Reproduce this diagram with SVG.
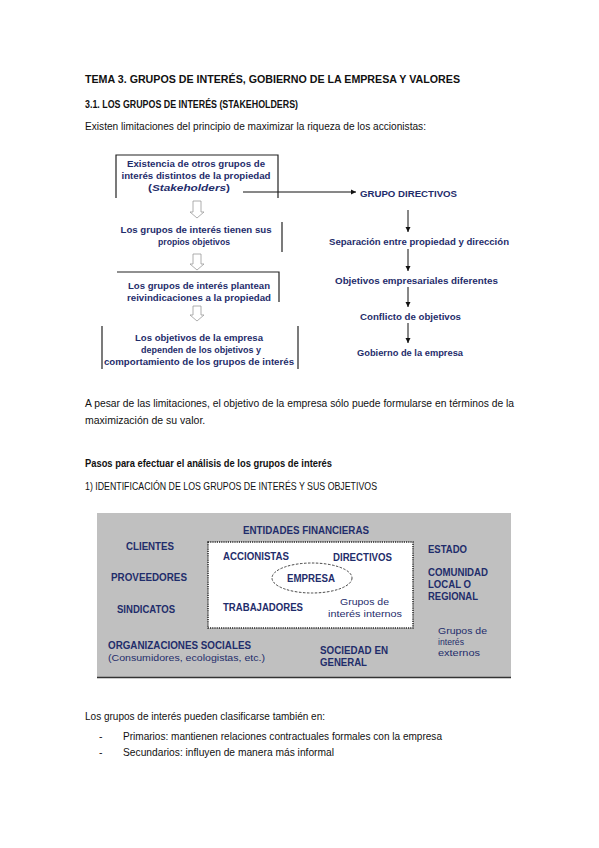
<svg xmlns="http://www.w3.org/2000/svg" width="599" height="848" viewBox="0 0 599 848">
<defs>
<marker id="ah" markerWidth="6" markerHeight="6" refX="5" refY="3" orient="auto" markerUnits="userSpaceOnUse">
<path d="M0,0.5 L5,3 L0,5.5 Z" fill="#111"/>
</marker>
<style>
.doc{font-family:"Liberation Sans",Arial,sans-serif;fill:#111;font-size:10.5px}
.b{font-weight:bold}
.dg{font-family:"Liberation Sans",Arial,sans-serif;font-weight:bold;fill:#1f2d6b;font-size:9px}
.gb{font-family:"Liberation Sans",Arial,sans-serif;font-weight:bold;fill:#1f2d6b;font-size:10px}
.gn{font-family:"Liberation Sans",Arial,sans-serif;fill:#1f2d6b;font-size:9.5px}
.frame{stroke:#222;stroke-width:1.2;fill:none}
.hollow{fill:#fff;stroke:#9a9a9a;stroke-width:0.8}
.conn{stroke:#111;stroke-width:1;fill:none}
</style>
</defs>
<rect width="599" height="848" fill="#fff"/>

<g id="header">
<text class="doc b" x="85" y="83" font-size="14.5" textLength="375" lengthAdjust="spacingAndGlyphs">TEMA 3. GRUPOS DE INTERÉS, GOBIERNO DE LA EMPRESA Y VALORES</text>
<text class="doc b" x="85" y="108" font-size="11" textLength="213" lengthAdjust="spacingAndGlyphs">3.1. LOS GRUPOS DE INTERÉS (STAKEHOLDERS)</text>
<text class="doc" x="85" y="130" textLength="341" lengthAdjust="spacingAndGlyphs">Existen limitaciones del principio de maximizar la riqueza de los accionistas:</text>
</g>

<g id="connectors">
<line class="conn" x1="243" y1="192" x2="356" y2="192" marker-end="url(#ah)"/>
<line class="conn" x1="408" y1="210" x2="408" y2="232" marker-end="url(#ah)"/>
<line class="conn" x1="408" y1="249" x2="408" y2="271" marker-end="url(#ah)"/>
<line class="conn" x1="408" y1="287" x2="408" y2="307" marker-end="url(#ah)"/>
<line class="conn" x1="408" y1="323" x2="408" y2="343" marker-end="url(#ah)"/>
<path class="hollow" d="M193,201 H201 V212 H204 L197,218 L190,212 H193 Z"/>
<path class="hollow" d="M193,254 H201 V264 H204 L197,270 L190,264 H193 Z"/>
<path class="hollow" d="M193,306 H201 V315 H204 L197,321 L190,315 H193 Z"/>
</g>

<g id="box1">
<path class="frame" d="M116,198 V155 H278 V198"/>
<text class="dg" x="196" y="167" text-anchor="middle" textLength="138" lengthAdjust="spacingAndGlyphs">Existencia de otros grupos de</text>
<text class="dg" x="196" y="179" text-anchor="middle" textLength="149" lengthAdjust="spacingAndGlyphs">interés distintos de la propiedad</text>
<text class="dg" x="189" y="191" text-anchor="middle" textLength="82" lengthAdjust="spacingAndGlyphs">(<tspan font-style="italic">Stakeholders</tspan>)</text>
</g>

<g id="box2">
<line class="frame" x1="282" y1="222" x2="282" y2="252"/>
<text class="dg" x="196" y="233" text-anchor="middle" textLength="151" lengthAdjust="spacingAndGlyphs">Los grupos de interés tienen sus</text>
<text class="dg" x="194" y="245" text-anchor="middle" textLength="72" lengthAdjust="spacingAndGlyphs">propios objetivos</text>
</g>

<g id="box3">
<path class="frame" d="M117,272 H279 V302"/>
<text class="dg" x="199" y="289" text-anchor="middle" textLength="142" lengthAdjust="spacingAndGlyphs">Los grupos de interés plantean</text>
<text class="dg" x="199" y="301" text-anchor="middle" textLength="144" lengthAdjust="spacingAndGlyphs">reivindicaciones a la propiedad</text>
</g>

<g id="box4">
<line class="frame" x1="102" y1="326" x2="102" y2="369"/>
<line class="frame" x1="298" y1="326" x2="298" y2="369"/>
<text class="dg" x="199" y="341" text-anchor="middle" textLength="128" lengthAdjust="spacingAndGlyphs">Los objetivos de la empresa</text>
<text class="dg" x="201" y="353" text-anchor="middle" textLength="120" lengthAdjust="spacingAndGlyphs">dependen de los objetivos y</text>
<text class="dg" x="199" y="365" text-anchor="middle" textLength="190" lengthAdjust="spacingAndGlyphs">comportamiento de los grupos de interés</text>
</g>

<g id="directivos">
<text class="dg" x="360" y="197" textLength="97" lengthAdjust="spacingAndGlyphs">GRUPO DIRECTIVOS</text>
</g>
<g id="separacion">
<text class="dg" x="329" y="245" textLength="180" lengthAdjust="spacingAndGlyphs">Separación entre propiedad y dirección</text>
</g>
<g id="objetivos">
<text class="dg" x="335" y="284" textLength="163" lengthAdjust="spacingAndGlyphs">Objetivos empresariales diferentes</text>
</g>
<g id="conflicto">
<text class="dg" x="360" y="320" textLength="101" lengthAdjust="spacingAndGlyphs">Conflicto de objetivos</text>
</g>
<g id="gobierno">
<text class="dg" x="357" y="356" textLength="106" lengthAdjust="spacingAndGlyphs">Gobierno de la empresa</text>
</g>

<g id="paragraphs">
<text class="doc" x="85" y="407" textLength="429" lengthAdjust="spacingAndGlyphs">A pesar de las limitaciones, el objetivo de la empresa sólo puede formularse en términos de la</text>
<text class="doc" x="85" y="424" font-size="10">maximización de su valor.</text>
<text class="doc b" x="85" y="467" textLength="247" lengthAdjust="spacingAndGlyphs">Pasos para efectuar el análisis de los grupos de interés</text>
<text class="doc" x="85" y="490" textLength="292" lengthAdjust="spacingAndGlyphs">1) IDENTIFICACIÓN DE LOS GRUPOS DE INTERÉS Y SUS OBJETIVOS</text>
</g>

<g id="stakeholder-map">
<rect x="97" y="513" width="414" height="165" fill="#c0c0c0"/>
<line x1="97" y1="677.5" x2="511" y2="677.5" stroke="#333" stroke-width="1.5"/>
<rect x="208" y="542" width="205" height="86" fill="#fff" stroke="#222" stroke-width="1.5" stroke-dasharray="1.2 1"/>
<ellipse cx="312" cy="578" rx="40" ry="15" fill="none" stroke="#333" stroke-width="0.9" stroke-dasharray="2.5 1.5"/>
<text class="gb" x="243" y="534" textLength="126" lengthAdjust="spacingAndGlyphs">ENTIDADES FINANCIERAS</text>
<text class="gb" x="126" y="550" textLength="48" lengthAdjust="spacingAndGlyphs">CLIENTES</text>
<text class="gb" x="111" y="581" textLength="76" lengthAdjust="spacingAndGlyphs">PROVEEDORES</text>
<text class="gb" x="117" y="613" textLength="58" lengthAdjust="spacingAndGlyphs">SINDICATOS</text>
<text class="gb" x="223" y="560" textLength="66" lengthAdjust="spacingAndGlyphs">ACCIONISTAS</text>
<text class="gb" x="333" y="561" textLength="59" lengthAdjust="spacingAndGlyphs">DIRECTIVOS</text>
<text class="gb" x="287" y="582" textLength="48" lengthAdjust="spacingAndGlyphs">EMPRESA</text>
<text class="gb" x="223" y="611" textLength="80" lengthAdjust="spacingAndGlyphs">TRABAJADORES</text>
<text class="gn" x="340" y="605" textLength="49" lengthAdjust="spacingAndGlyphs">Grupos de</text>
<text class="gn" x="328" y="617" textLength="74" lengthAdjust="spacingAndGlyphs">interés internos</text>
<text class="gb" x="428" y="553" textLength="39" lengthAdjust="spacingAndGlyphs">ESTADO</text>
<text class="gb" x="428" y="576" textLength="60" lengthAdjust="spacingAndGlyphs">COMUNIDAD</text>
<text class="gb" x="428" y="588" textLength="43" lengthAdjust="spacingAndGlyphs">LOCAL O</text>
<text class="gb" x="428" y="600" textLength="50" lengthAdjust="spacingAndGlyphs">REGIONAL</text>
<text class="gn" x="438" y="634" textLength="49" lengthAdjust="spacingAndGlyphs">Grupos de</text>
<text class="gn" x="438" y="645" textLength="26" lengthAdjust="spacingAndGlyphs">interés</text>
<text class="gn" x="438" y="656" textLength="42" lengthAdjust="spacingAndGlyphs">externos</text>
<text class="gb" x="108" y="649" textLength="143" lengthAdjust="spacingAndGlyphs">ORGANIZACIONES SOCIALES</text>
<text class="gn" x="108" y="661" textLength="157" lengthAdjust="spacingAndGlyphs">(Consumidores, ecologistas, etc.)</text>
<text class="gb" x="320" y="654" textLength="68" lengthAdjust="spacingAndGlyphs">SOCIEDAD EN</text>
<text class="gb" x="320" y="666" textLength="47" lengthAdjust="spacingAndGlyphs">GENERAL</text>
</g>

<g id="footer">
<text class="doc" x="85" y="720" textLength="240" lengthAdjust="spacingAndGlyphs">Los grupos de interés pueden clasificarse también en:</text>
<text class="doc" x="99" y="740">-</text>
<text class="doc" x="123" y="740" textLength="319" lengthAdjust="spacingAndGlyphs">Primarios: mantienen relaciones contractuales formales con la empresa</text>
<text class="doc" x="99" y="756">-</text>
<text class="doc" x="123" y="756" textLength="211" lengthAdjust="spacingAndGlyphs">Secundarios: influyen de manera más informal</text>
</g>
</svg>
